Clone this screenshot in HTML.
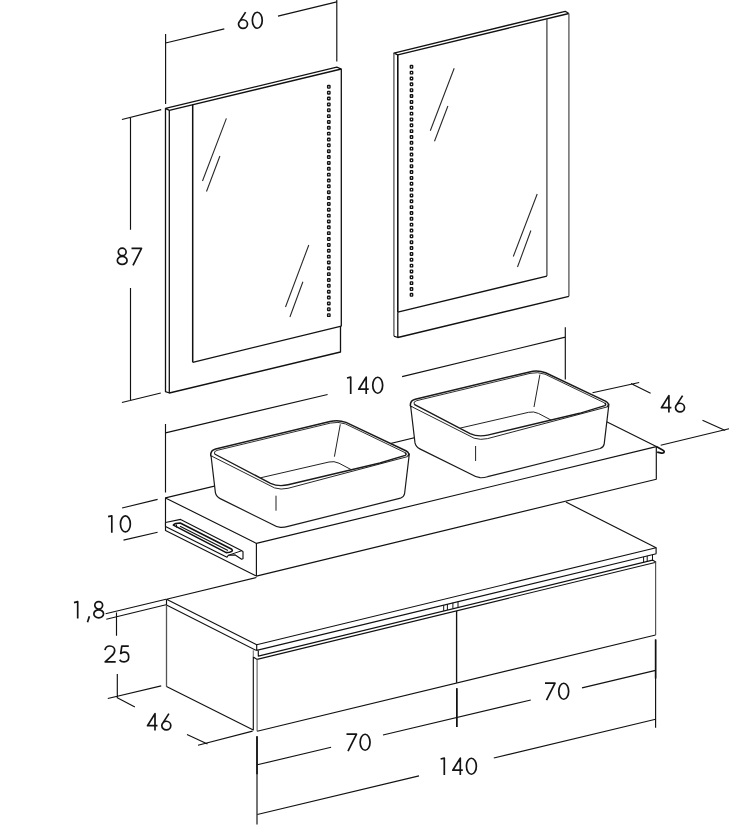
<!DOCTYPE html>
<html><head><meta charset="utf-8"><title>Bathroom furniture dimensions</title>
<style>
html,body{margin:0;padding:0;background:#fff;width:732px;height:836px;overflow:hidden;}
svg{display:block;}
</style></head><body>
<svg width="732" height="836" viewBox="0 0 732 836">


<g fill="none" stroke="#111" stroke-width="1.15" stroke-linecap="butt" stroke-linejoin="round">
  <!-- ===== Dim 60 ===== -->
  <path d="M165.6,34 V104 M336.8,0 V61.5 M165.6,43 L224.3,28.9 M278,16.1 L336.8,1.9"/>

  <!-- ===== Left mirror ===== -->
  <path stroke-width="1.3" d="M165.5,108.3 V391.7 L169.3,393 L340.5,352 V326.2 M341.3,326.2 V69 L336.8,67.2 L165.5,108.3 L169.3,110.3 L341.3,69 M169.3,110.3 V393"/>
  <path stroke-width="1.5" d="M192.7,104.6 V362.3"/>
  <path stroke-width="1.3" d="M192.7,362.3 L341.3,326.2"/>
  <path stroke="#2a2a2a" stroke-width="1.1" d="M226.4,118.4 L202.5,181 M219.9,156 L206.5,191.5 M308.8,245 L285.5,307 M302.9,281.8 L289.9,317"/>

  <!-- ===== Right mirror ===== -->
  <path stroke-width="1.3" d="M393.9,336.1 L397.8,337.5 L568.9,296.3 M568.9,13.5 L565.2,11.3 L393.9,53.1 L397.8,54.8 L568.9,13.5 M397.8,312.2 V337.5"/>
  <path stroke-width="1.6" d="M397.8,54.8 V312.2"/>
  <path stroke="#555" stroke-width="1.3" d="M393.9,53.1 V336.1 M568.9,13.5 V296.3"/>
  <path stroke="#444" stroke-width="1.3" d="M546.9,18.8 V276.1"/>
  <path stroke-width="1.3" d="M546.9,276.1 L397.8,312.2"/>
  <path stroke="#2a2a2a" stroke-width="1.1" d="M454.2,68.3 L430.3,130.8 M447.9,106 L434.5,141.2 M537.2,194 L513.3,256.5 M530.9,230.5 L517.5,267"/>

  <!-- ===== Dim 87 ===== -->
  <path d="M121.9,119.5 L161.2,109.6 M121.9,402.5 L160.8,393 M130.5,117 V229.7 M130.5,288 V400.5"/>

  <!-- ===== Dim 140 top ===== -->
  <path d="M165.5,424 V492.5 M565.3,327.3 V379.6 M165.5,432.9 L327.6,394.5 M402.1,376.6 L565.3,337.1"/>

  <!-- ===== Dim 46 right ===== -->
  <path d="M592.5,392.8 L639.2,382.5 M630.9,383.5 L650.6,393.3 M702.5,420.2 L725.3,430.6 M660.7,445.3 L729,428.8"/>

  <!-- ===== Dim 10 ===== -->
  <path d="M122.1,508 L157.6,499.4 M123.5,540.1 L157.6,532.2"/>

  <!-- ===== Cabinet ===== -->
  <path d="M166.5,599.2 L256.7,644.8 L656.1,547.7 L565.9,502.1 M166.5,599.2 L256.4,577.5"/>
  <path d="M166.5,599.2 V604.9 L255.9,650.3 M256.7,644.8 V650.4 L656.3,553.7 M656.1,547.7 V553.7"/>
  <path stroke="#555" stroke-width="1.3" d="M166.5,604.9 V686.6"/>
  <path d="M166.5,686.6 L253.3,729.9 V657 L257.1,659.4"/>
  <path stroke="#777" d="M253.3,650.3 V657"/>
  <path d="M258.3,650.4 V656.1 L652.5,560.1 L656.1,562.2 M257.1,659.4 L656.1,562.2"/>
  <path stroke="#666" d="M257.1,659.4 V731.3"/>
  <path d="M257.2,731.3 L655.6,635"/>
  <path stroke="#555" stroke-width="1.2" d="M655.6,635 V562.2"/>
  <path stroke-width="1.35" d="M456.6,611 V682.8"/>
  <path stroke-width="1" d="M443.7,605 V610.9 M447.4,604.1 V610 M452.9,602.8 V608.7 M458,601.5 V607.4 M643.6,556.8 V562.6 M647.2,555.9 V561.7 M652.5,554.6 V560.4"/>

  <!-- ===== Countertop ===== -->
  <path fill="#fff" d="M165.5,497.9 L565.5,401.3 L656.3,446.6 V479.2 L256.4,576.1 L165.5,530.6 Z"/>
  <path d="M165.5,497.9 L256.4,543.4 L656.3,446.6 M256.4,543.4 V576.1"/>
  <path stroke-width="1.7" d="M656.3,446.6 L662.6,449.9 Q665.2,451.4 663.6,452.8 Q662.4,453.5 660.5,452.9 L657.2,452.1"/>
  <!-- towel bar -->
  <path fill="#fff" d="M165.5,522.5 L180.6,519.4 L241.8,550.7 L243,551.6 V558.8 L241.6,559.2 L235.2,554.9 L228.3,555.3 L227,557.2 L165.5,526.6 Z"/>
  <path stroke-width="1.6" d="M173.4,525.1 Q175,523 180.2,523 L231.8,549.3 Q233.6,551.2 229.6,552.2 L226.2,552.6 Z"/>
  <path d="M180,526.2 L228,550.6"/>
  <path stroke-width="1" d="M228.3,555.3 L241.8,550.7 M176.5,524.5 V527.5"/>

  <!-- ===== Left dims ===== -->
  <path d="M105.6,613.7 L166,599.3 M106.3,619.3 L166,604.7 M116.5,612.5 V635.8 M117.3,674.1 V697.6 M107.8,698.5 L161.2,685.9 M116.8,697.4 L134.9,706.9 M187,734.4 L207.5,744 M198,745.3 L252.6,731.1"/>

  <!-- ===== Bottom dims ===== -->
  <path d="M257,736.1 V824.5 M456.8,688.3 V727.1 M655.6,639.5 V727.7"/>
  <path stroke-width="1.6" d="M257,736.6 V774.2 M456.8,688.3 V727.1 M655.6,639.5 V678.4"/>
  <path d="M257.3,764.8 L331.1,747.3 M383,735 L530.8,700 M582,687.9 L655.6,670.4 M257.3,814.5 L419,775.9 M493.8,758 L655.6,719.3"/>
</g>

<!-- LED dots -->
<g fill="#fff" stroke="#111" stroke-width="1.35"><rect x="327.6" y="85.5" width="2.4" height="2.6" rx="0.5"/><rect x="327.6" y="91.4" width="2.4" height="2.6" rx="0.5"/><rect x="327.6" y="97.2" width="2.4" height="2.6" rx="0.5"/><rect x="327.6" y="103.1" width="2.4" height="2.6" rx="0.5"/><rect x="327.6" y="108.9" width="2.4" height="2.6" rx="0.5"/><rect x="327.6" y="114.8" width="2.4" height="2.6" rx="0.5"/><rect x="327.6" y="120.6" width="2.4" height="2.6" rx="0.5"/><rect x="327.6" y="126.5" width="2.4" height="2.6" rx="0.5"/><rect x="327.6" y="132.3" width="2.4" height="2.6" rx="0.5"/><rect x="327.6" y="138.2" width="2.4" height="2.6" rx="0.5"/><rect x="327.6" y="144.0" width="2.4" height="2.6" rx="0.5"/><rect x="327.6" y="149.9" width="2.4" height="2.6" rx="0.5"/><rect x="327.6" y="155.7" width="2.4" height="2.6" rx="0.5"/><rect x="327.6" y="161.6" width="2.4" height="2.6" rx="0.5"/><rect x="327.6" y="167.5" width="2.4" height="2.6" rx="0.5"/><rect x="327.6" y="173.3" width="2.4" height="2.6" rx="0.5"/><rect x="327.6" y="179.2" width="2.4" height="2.6" rx="0.5"/><rect x="327.6" y="185.0" width="2.4" height="2.6" rx="0.5"/><rect x="327.6" y="190.9" width="2.4" height="2.6" rx="0.5"/><rect x="327.6" y="196.7" width="2.4" height="2.6" rx="0.5"/><rect x="327.6" y="202.6" width="2.4" height="2.6" rx="0.5"/><rect x="327.6" y="208.4" width="2.4" height="2.6" rx="0.5"/><rect x="327.6" y="214.3" width="2.4" height="2.6" rx="0.5"/><rect x="327.6" y="220.1" width="2.4" height="2.6" rx="0.5"/><rect x="327.6" y="226.0" width="2.4" height="2.6" rx="0.5"/><rect x="327.6" y="231.8" width="2.4" height="2.6" rx="0.5"/><rect x="327.6" y="237.7" width="2.4" height="2.6" rx="0.5"/><rect x="327.6" y="243.6" width="2.4" height="2.6" rx="0.5"/><rect x="327.6" y="249.4" width="2.4" height="2.6" rx="0.5"/><rect x="327.6" y="255.3" width="2.4" height="2.6" rx="0.5"/><rect x="327.6" y="261.1" width="2.4" height="2.6" rx="0.5"/><rect x="327.6" y="267.0" width="2.4" height="2.6" rx="0.5"/><rect x="327.6" y="272.8" width="2.4" height="2.6" rx="0.5"/><rect x="327.6" y="278.7" width="2.4" height="2.6" rx="0.5"/><rect x="327.6" y="284.5" width="2.4" height="2.6" rx="0.5"/><rect x="327.6" y="290.4" width="2.4" height="2.6" rx="0.5"/><rect x="327.6" y="296.2" width="2.4" height="2.6" rx="0.5"/><rect x="327.6" y="302.1" width="2.4" height="2.6" rx="0.5"/><rect x="327.6" y="307.9" width="2.4" height="2.6" rx="0.5"/><rect x="327.6" y="313.8" width="2.4" height="2.6" rx="0.5"/><rect x="410.3" y="65.5" width="2.4" height="2.6" rx="0.5"/><rect x="410.3" y="71.3" width="2.4" height="2.6" rx="0.5"/><rect x="410.3" y="77.2" width="2.4" height="2.6" rx="0.5"/><rect x="410.3" y="83.0" width="2.4" height="2.6" rx="0.5"/><rect x="410.3" y="88.9" width="2.4" height="2.6" rx="0.5"/><rect x="410.3" y="94.7" width="2.4" height="2.6" rx="0.5"/><rect x="410.3" y="100.6" width="2.4" height="2.6" rx="0.5"/><rect x="410.3" y="106.4" width="2.4" height="2.6" rx="0.5"/><rect x="410.3" y="112.3" width="2.4" height="2.6" rx="0.5"/><rect x="410.3" y="118.1" width="2.4" height="2.6" rx="0.5"/><rect x="410.3" y="124.0" width="2.4" height="2.6" rx="0.5"/><rect x="410.3" y="129.8" width="2.4" height="2.6" rx="0.5"/><rect x="410.3" y="135.7" width="2.4" height="2.6" rx="0.5"/><rect x="410.3" y="141.5" width="2.4" height="2.6" rx="0.5"/><rect x="410.3" y="147.3" width="2.4" height="2.6" rx="0.5"/><rect x="410.3" y="153.2" width="2.4" height="2.6" rx="0.5"/><rect x="410.3" y="159.0" width="2.4" height="2.6" rx="0.5"/><rect x="410.3" y="164.9" width="2.4" height="2.6" rx="0.5"/><rect x="410.3" y="170.7" width="2.4" height="2.6" rx="0.5"/><rect x="410.3" y="176.6" width="2.4" height="2.6" rx="0.5"/><rect x="410.3" y="182.4" width="2.4" height="2.6" rx="0.5"/><rect x="410.3" y="188.3" width="2.4" height="2.6" rx="0.5"/><rect x="410.3" y="194.1" width="2.4" height="2.6" rx="0.5"/><rect x="410.3" y="200.0" width="2.4" height="2.6" rx="0.5"/><rect x="410.3" y="205.8" width="2.4" height="2.6" rx="0.5"/><rect x="410.3" y="211.7" width="2.4" height="2.6" rx="0.5"/><rect x="410.3" y="217.5" width="2.4" height="2.6" rx="0.5"/><rect x="410.3" y="223.3" width="2.4" height="2.6" rx="0.5"/><rect x="410.3" y="229.2" width="2.4" height="2.6" rx="0.5"/><rect x="410.3" y="235.0" width="2.4" height="2.6" rx="0.5"/><rect x="410.3" y="240.9" width="2.4" height="2.6" rx="0.5"/><rect x="410.3" y="246.7" width="2.4" height="2.6" rx="0.5"/><rect x="410.3" y="252.6" width="2.4" height="2.6" rx="0.5"/><rect x="410.3" y="258.4" width="2.4" height="2.6" rx="0.5"/><rect x="410.3" y="264.3" width="2.4" height="2.6" rx="0.5"/><rect x="410.3" y="270.1" width="2.4" height="2.6" rx="0.5"/><rect x="410.3" y="276.0" width="2.4" height="2.6" rx="0.5"/><rect x="410.3" y="281.8" width="2.4" height="2.6" rx="0.5"/><rect x="410.3" y="287.7" width="2.4" height="2.6" rx="0.5"/><rect x="410.3" y="293.5" width="2.4" height="2.6" rx="0.5"/></g>

<!-- sinks -->
<g stroke="#1a1a1a" fill="none">
  <path fill="#fff" stroke-width="1.2" d="M211,455.5 L215.4,492.6 Q216.3,496.8 220.2,498.6 L271.5,524 Q276,526.8 280.5,527.4 Q284,527.6 288,526.4 L400.5,498.2 Q404,497 404.6,493.5 L409.3,454 Z"/>
  <path fill="#fff" stroke="none" d="M210.7,455.4 Q210.6,450 215.6,448.9 L330,421.6 Q338,419.7 346,422.4 L406.3,451 Q410.4,453.3 407.6,456.6 L288,488.3 Q281,490 274.5,487.9 L212.6,456.6 Q210.8,455.9 210.7,455.4 Z"/>
  <path stroke-width="1.5" d="M212.6,456.6 Q210.8,455.9 210.7,455.4 Q210.6,450 215.6,448.9 L330,421.6 Q338,419.7 346,422.4 L406.3,451 Q410.4,453.3 407.6,456.6"/>
  <path stroke-width="0.95" d="M407.6,456.6 L288,488.3 Q281,490 274.5,487.9 L212.6,456.6"/>
  <path stroke-width="0.9" d="M214.6,454 Q213.4,451.3 217,450.4 L330.4,423.1 Q338,421.3 345.4,423.9 L405,452.6"/>
  <path stroke-width="1.4" d="M214.6,454 L270.5,483.3 Q275.5,485.6 281,485.6 Q284.5,485.6 288,484.8 L380,463 L405.2,455.4 Q407.2,454.4 405,452.6"/>
  <path stroke-width="1" stroke="#222" d="M340.3,424.3 L334.4,456.7 M260.5,477.8 L329,462 Q334,460.8 339,463.2 L351.5,469.8"/>
  <path stroke-width="1" stroke="#222" d="M276,495.7 V510.7"/>
</g>
<g transform="translate(199.6,-49.7)" stroke="#1a1a1a" fill="none">
  <path fill="#fff" stroke-width="1.2" d="M211,455.5 L215.4,492.6 Q216.3,496.8 220.2,498.6 L271.5,524 Q276,526.8 280.5,527.4 Q284,527.6 288,526.4 L400.5,498.2 Q404,497 404.6,493.5 L409.3,454 Z"/>
  <path fill="#fff" stroke="none" d="M210.7,455.4 Q210.6,450 215.6,448.9 L330,421.6 Q338,419.7 346,422.4 L406.3,451 Q410.4,453.3 407.6,456.6 L288,488.3 Q281,490 274.5,487.9 L212.6,456.6 Q210.8,455.9 210.7,455.4 Z"/>
  <path stroke-width="1.5" d="M212.6,456.6 Q210.8,455.9 210.7,455.4 Q210.6,450 215.6,448.9 L330,421.6 Q338,419.7 346,422.4 L406.3,451 Q410.4,453.3 407.6,456.6"/>
  <path stroke-width="0.95" d="M407.6,456.6 L288,488.3 Q281,490 274.5,487.9 L212.6,456.6"/>
  <path stroke-width="0.9" d="M214.6,454 Q213.4,451.3 217,450.4 L330.4,423.1 Q338,421.3 345.4,423.9 L405,452.6"/>
  <path stroke-width="1.4" d="M214.6,454 L270.5,483.3 Q275.5,485.6 281,485.6 Q284.5,485.6 288,484.8 L380,463 L405.2,455.4 Q407.2,454.4 405,452.6"/>
  <path stroke-width="1" stroke="#222" d="M340.3,424.3 L334.4,456.7 M260.5,477.8 L329,462 Q334,460.8 339,463.2 L351.5,469.8"/>
  <path stroke-width="1" stroke="#222" d="M276,495.7 V510.7"/>
</g>

<!-- dimension labels (stroked glyphs) -->
<g fill="none" stroke="#141414" stroke-width="1.7" stroke-linecap="butt" stroke-linejoin="round"><g role="img" aria-label="60"><title>60</title><path transform="translate(237.7,29.0)" d="M7.9,-16.9 L1.3,-6.6 M0.80,-4.90 A4.50,4.35 0 1 0 9.80,-4.90 A4.50,4.35 0 1 0 0.80,-4.90 Z"/><path transform="translate(251.6,29.0)" d="M0.75,-8.75 A4.95,8.00 0 1 0 10.65,-8.75 A4.95,8.00 0 1 0 0.75,-8.75 Z"/></g><g role="img" aria-label="87"><title>87</title><path transform="translate(116.6,265.2)" d="M1.70,-13.30 A3.90,3.70 0 1 0 9.50,-13.30 A3.90,3.70 0 1 0 1.70,-13.30 Z M0.75,-4.75 A4.85,4.00 0 1 0 10.45,-4.75 A4.85,4.00 0 1 0 0.75,-4.75 Z"/><path transform="translate(131.3,265.2)" d="M0.2,-16.8 H10.2 L1.7,0.1"/></g><g role="img" aria-label="140"><title>140</title><path transform="translate(346.6,394.0)" d="M0.4,-16.0 L4.1,-16.9 L4.1,0"/><path transform="translate(358.0,394.0)" d="M8.2,0.1 V-16.9 L0.7,-4.8 H10.7"/><path transform="translate(372.0,394.0)" d="M0.75,-8.75 A4.95,8.00 0 1 0 10.65,-8.75 A4.95,8.00 0 1 0 0.75,-8.75 Z"/></g><g role="img" aria-label="46"><title>46</title><path transform="translate(660.7,412.5)" d="M8.2,0.1 V-16.9 L0.7,-4.8 H10.7"/><path transform="translate(674.7,412.5)" d="M7.9,-16.9 L1.3,-6.6 M0.80,-4.90 A4.50,4.35 0 1 0 9.80,-4.90 A4.50,4.35 0 1 0 0.80,-4.90 Z"/></g><g role="img" aria-label="10"><title>10</title><path transform="translate(107.7,532.7)" d="M0.4,-16.0 L4.1,-16.9 L4.1,0"/><path transform="translate(119.7,532.7)" d="M0.75,-8.75 A4.95,8.00 0 1 0 10.65,-8.75 A4.95,8.00 0 1 0 0.75,-8.75 Z"/></g><g role="img" aria-label="1,8"><title>1,8</title><path transform="translate(73.6,618.6)" d="M0.4,-16.0 L4.1,-16.9 L4.1,0"/><path transform="translate(86.6,618.6)" d="M2.8,-2.3 L0.9,3.6"/><path transform="translate(93.1,618.6)" d="M1.70,-13.30 A3.90,3.70 0 1 0 9.50,-13.30 A3.90,3.70 0 1 0 1.70,-13.30 Z M0.75,-4.75 A4.85,4.00 0 1 0 10.45,-4.75 A4.85,4.00 0 1 0 0.75,-4.75 Z"/></g><g role="img" aria-label="25"><title>25</title><path transform="translate(104.3,662.7)" d="M0.7,-12.6 C1.1,-15.3 3.1,-16.7 5.6,-16.7 C8.5,-16.7 10.4,-14.7 10.4,-12.3 C10.4,-10 9.0,-8.3 6.8,-6.3 L0.9,-0.75 H11.4"/><path transform="translate(119.1,662.7)" d="M9.7,-16.6 H2.7 L1.6,-9.2 C2.7,-10.1 3.9,-10.6 5.2,-10.6 C8,-10.6 9.6,-8.3 9.6,-5.5 C9.6,-2.5 7.6,-0.75 5.0,-0.75 C3,-0.75 1.4,-1.6 0.5,-3.0"/></g><g role="img" aria-label="46"><title>46</title><path transform="translate(146.8,730.5)" d="M8.2,0.1 V-16.9 L0.7,-4.8 H10.7"/><path transform="translate(161.0,730.5)" d="M7.9,-16.9 L1.3,-6.6 M0.80,-4.90 A4.50,4.35 0 1 0 9.80,-4.90 A4.50,4.35 0 1 0 0.80,-4.90 Z"/></g><g role="img" aria-label="70"><title>70</title><path transform="translate(346.3,751.0)" d="M0.2,-16.8 H10.2 L1.7,0.1"/><path transform="translate(359.4,751.0)" d="M0.75,-8.75 A4.95,8.00 0 1 0 10.65,-8.75 A4.95,8.00 0 1 0 0.75,-8.75 Z"/></g><g role="img" aria-label="70"><title>70</title><path transform="translate(544.8,700.0)" d="M0.2,-16.8 H10.2 L1.7,0.1"/><path transform="translate(558.0,700.0)" d="M0.75,-8.75 A4.95,8.00 0 1 0 10.65,-8.75 A4.95,8.00 0 1 0 0.75,-8.75 Z"/></g><g role="img" aria-label="140"><title>140</title><path transform="translate(440.2,775.0)" d="M0.4,-16.0 L4.1,-16.9 L4.1,0"/><path transform="translate(452.1,775.0)" d="M8.2,0.1 V-16.9 L0.7,-4.8 H10.7"/><path transform="translate(465.7,775.0)" d="M0.75,-8.75 A4.95,8.00 0 1 0 10.65,-8.75 A4.95,8.00 0 1 0 0.75,-8.75 Z"/></g></g>
</svg>
</body></html>
